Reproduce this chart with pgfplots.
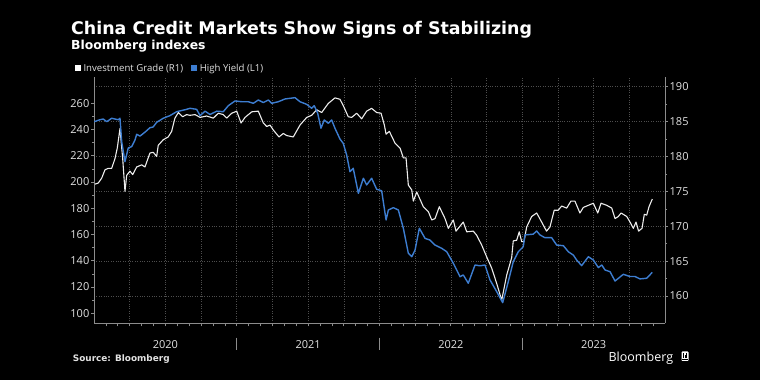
\documentclass[border=0pt]{standalone}
\usepackage{fontspec}
\setmainfont{Open Sans}
\newfontfamily\dv{DejaVu Sans}
\usepackage{pgfplots}
\usepackage{pgfplotstable}
\pgfplotsset{compat=1.18}
\definecolor{hyblue}{HTML}{3D7DD0}
\definecolor{igwhite}{HTML}{EDEDED}
\definecolor{gridc}{HTML}{4E4E4E}
\definecolor{axc}{HTML}{8C8C8C}
\definecolor{txt}{HTML}{E2E2E2}

\pgfplotstableread{
x y
2020.002 246.0
2020.042 247.5
2020.065 248.0
2020.089 246.0
2020.124 248.6
2020.147 248.0
2020.170 247.5
2020.182 248.6
2020.194 230.7
2020.217 215.5
2020.240 226.0
2020.264 227.0
2020.287 232.0
2020.299 236.4
2020.322 235.0
2020.357 238.0
2020.392 241.4
2020.415 242.0
2020.439 245.5
2020.485 248.6
2020.532 250.6
2020.579 253.6
2020.649 255.4
2020.672 256.2
2020.719 255.4
2020.743 250.6
2020.778 254.0
2020.813 251.5
2020.860 254.0
2020.906 253.6
2020.941 258.2
2020.988 261.8
2021.035 261.2
2021.081 261.2
2021.116 260.0
2021.151 262.5
2021.186 260.6
2021.221 262.5
2021.245 260.0
2021.291 261.2
2021.338 263.3
2021.408 264.3
2021.443 261.2
2021.490 259.2
2021.525 256.2
2021.543 258.2
2021.567 252.4
2021.590 241.0
2021.613 247.3
2021.641 244.8
2021.665 247.3
2021.688 241.0
2021.723 232.8
2021.746 229.5
2021.770 220.6
2021.793 207.9
2021.816 210.5
2021.852 191.4
2021.887 202.9
2021.910 197.8
2021.945 202.9
2021.980 194.5
2022.015 193.4
2022.046 171.1
2022.062 178.7
2022.097 180.5
2022.132 178.7
2022.167 164.8
2022.202 145.7
2022.226 143.1
2022.249 148.2
2022.279 164.8
2022.319 157.1
2022.354 155.8
2022.389 152.0
2022.436 149.5
2022.471 146.9
2022.517 138.1
2022.564 127.9
2022.587 129.2
2022.622 122.9
2022.669 136.8
2022.704 136.2
2022.739 136.8
2022.774 125.4
2022.821 116.5
2022.863 108.1
2022.902 124.1
2022.937 139.3
2022.972 146.9
2023.007 150.7
2023.019 159.7
2023.077 160.3
2023.101 162.7
2023.124 159.7
2023.159 157.6
2023.206 157.6
2023.241 152.0
2023.288 151.5
2023.323 146.9
2023.358 144.3
2023.381 140.6
2023.416 136.3
2023.463 143.1
2023.498 140.6
2023.533 134.8
2023.557 136.8
2023.580 133.0
2023.615 131.7
2023.650 124.6
2023.708 129.7
2023.755 128.0
2023.790 128.0
2023.825 126.2
2023.872 126.7
2023.911 131.2
}\hytable

\pgfplotstableread{
x y
2020.002 176.0
2020.030 176.2
2020.054 176.9
2020.077 178.1
2020.100 178.3
2020.124 178.3
2020.147 179.7
2020.163 181.2
2020.182 184.0
2020.201 179.7
2020.217 175.0
2020.229 177.3
2020.252 177.9
2020.271 177.4
2020.299 178.5
2020.334 178.8
2020.357 178.5
2020.392 180.5
2020.415 180.6
2020.439 180.0
2020.450 181.6
2020.485 182.4
2020.520 182.8
2020.544 183.6
2020.567 185.5
2020.591 186.3
2020.621 185.7
2020.649 186.0
2020.672 185.9
2020.708 186.0
2020.743 185.6
2020.789 185.8
2020.836 185.5
2020.871 186.2
2020.906 186.0
2020.930 185.5
2020.965 186.2
2021.000 186.5
2021.030 184.8
2021.058 185.6
2021.105 186.4
2021.151 186.5
2021.186 184.8
2021.210 184.3
2021.233 184.5
2021.256 183.8
2021.296 182.8
2021.326 183.3
2021.350 183.0
2021.396 182.8
2021.443 184.5
2021.490 185.6
2021.525 185.9
2021.560 186.7
2021.595 186.3
2021.641 187.6
2021.688 188.4
2021.723 188.2
2021.746 187.3
2021.781 185.7
2021.805 185.6
2021.840 186.2
2021.875 185.4
2021.910 186.5
2021.945 186.9
2021.980 186.3
2022.011 186.2
2022.034 184.5
2022.046 183.2
2022.069 183.6
2022.109 181.9
2022.144 181.2
2022.167 179.8
2022.186 179.8
2022.202 175.9
2022.226 175.2
2022.237 173.6
2022.261 174.9
2022.307 172.8
2022.342 172.1
2022.366 170.9
2022.389 171.1
2022.419 172.8
2022.459 171.1
2022.482 169.7
2022.517 170.9
2022.536 169.3
2022.587 170.6
2022.611 169.2
2022.657 169.3
2022.681 168.7
2022.716 167.3
2022.751 165.6
2022.786 164.0
2022.821 161.8
2022.856 159.4
2022.891 163.0
2022.926 165.5
2022.937 167.9
2022.961 168.0
2022.979 169.2
2022.996 167.8
2023.012 167.8
2023.031 169.9
2023.066 171.4
2023.101 171.9
2023.136 170.6
2023.170 169.3
2023.194 169.9
2023.224 172.3
2023.252 172.3
2023.276 172.9
2023.311 172.6
2023.341 173.6
2023.369 173.6
2023.404 171.9
2023.428 172.7
2023.463 173.0
2023.498 173.3
2023.529 171.9
2023.552 173.3
2023.592 173.0
2023.627 172.6
2023.650 171.1
2023.673 171.4
2023.692 171.9
2023.732 171.4
2023.755 170.6
2023.778 169.7
2023.797 170.6
2023.815 169.3
2023.839 169.7
2023.855 171.7
2023.872 171.6
2023.888 172.8
2023.911 173.9
}\igtable

\begin{document}
\begin{tikzpicture}[x=1pt,y=1pt]
\fill[black] (0,0) rectangle (760,380);

% right axis: Investment Grade (R1), carries the grid
\begin{axis}[at={(94pt,56.7pt)}, anchor=south west, scale only axis,
  width=571pt, height=246pt,
  xmin=2020, xmax=2024, ymin=156.09, ymax=191.35,
  axis x line*=bottom, axis y line*=right,
  axis line style={axc, line width=0.8pt},
  xtick={2020.25,2020.5,2020.75,2021,2021.25,2021.5,2021.75,2022,2022.25,2022.5,2022.75,2023,2023.25,2023.5,2023.75},
  xticklabels={}, x tick style={draw=none},
  xmajorgrids, ymajorgrids,
  grid style={gridc, dotted, line width=0.6pt},
  ytick={160,165,170,175,180,185,190},
  minor y tick num=1,
  tick align=outside, major tick length=3pt, minor tick length=2pt,
  y tick style={axc, line width=0.6pt},
  yticklabel style={txt, font=\fontsize{11}{11}\selectfont, inner sep=1.5pt},
  /pgf/number format/assume math mode=true,
]
\addplot[igwhite, line width=1.1pt, line join=round] table[x=x,y=y] {\igtable};
\end{axis}

% left axis: High Yield (L1)
\begin{axis}[at={(94pt,56.7pt)}, anchor=south west, scale only axis,
  width=571pt, height=246pt,
  xmin=2020, xmax=2024, ymin=92.38, ymax=279.81,
  axis x line*=bottom, axis y line*=left,
  axis line style={axc, line width=0.8pt},
  xtick={2020.0833,2020.1667,...,2023.95},
  xticklabels={},
  ytick={100,120,140,160,180,200,220,240,260},
  minor y tick num=1,
  tick align=outside, major tick length=3pt, minor tick length=2pt,
  tick style={axc, line width=0.6pt},
  yticklabel style={txt, font=\fontsize{11}{11}\selectfont, inner sep=1.5pt},
  /pgf/number format/assume math mode=true,
]
\addplot[hyblue, line width=1.4pt, line join=round] table[x=x,y=y] {\hytable};
\end{axis}

% titles
\node[anchor=base west, inner sep=0, text=white] at (71,345.7) {\dv\bfseries\fontsize{17.4}{17.4}\selectfont China Credit Markets Show Signs of Stabilizing};
\node[anchor=base west, inner sep=0, text=white] at (71,330) {\dv\bfseries\fontsize{12.4}{12.4}\selectfont Bloomberg indexes};

% legend
\fill[white] (75,309) rectangle (81.3,315.3);
\node[anchor=base west, inner sep=0, text=txt] at (83.3,308.6) {\fontsize{9.6}{9.6}\selectfont Investment Grade (R1)};
\fill[hyblue] (191,309) rectangle (197.3,315.3);
\node[anchor=base west, inner sep=0, text=txt] at (199.7,308.6) {\fontsize{9.6}{9.6}\selectfont High Yield (L1)};

% year labels and separators
\foreach \xx/\lab in {165.4/2020, 308.1/2021, 450.9/2022, 593.6/2023}
  \node[text=txt, inner sep=0] at (\xx,35.7) {\fontsize{11}{11}\selectfont \lab};
\foreach \xx in {236.75, 379.5, 522.25}
  \draw[axc, line width=0.6pt] (\xx,42.3) -- (\xx,30);

% footer
\node[anchor=base west, inner sep=0, text=txt] at (72.7,18.8) {\dv\bfseries\fontsize{8.9}{8.9}\selectfont Source: Bloomberg};
\node[anchor=base east, inner sep=0, text=white] at (673.3,18.8) {\fontsize{12.5}{12.5}\selectfont Bloomberg};
\fill[white, rounded corners=0.8pt] (681.5,19) rectangle (688.5,28.5);
\fill[black] (682.8,21.5) rectangle (683.6,26.5);
\fill[black] (684.6,21.5) rectangle (685.4,25);
\fill[black] (686.4,21.5) rectangle (687.2,27);
\fill[black] (682.3,20.6) rectangle (687.7,21.1);

\pgfresetboundingbox
\path (0,0) rectangle (760,380);
\end{tikzpicture}
\end{document}
